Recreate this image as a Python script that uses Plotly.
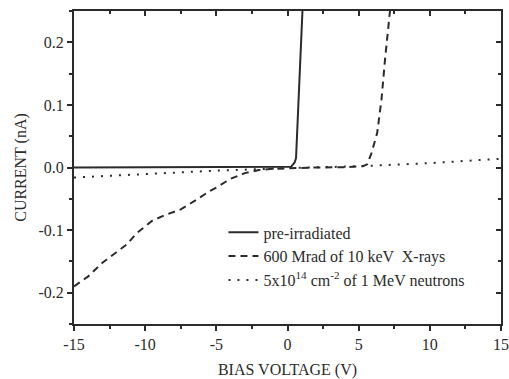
import plotly.graph_objects as go

# pre-irradiated
pre_x = [-15, -5, 0, 0.25, 0.5, 0.6, 1.05]
pre_y = [0.0, 0.0, 0.0, 0.001, 0.008, 0.015, 0.25]

# 600 Mrad of 10 keV X-rays
xr_x = [-15, -14, -13, -12, -11.3, -10.6, -9.5, -8.5, -7.5, -6.5, -5.5, -5, -4, -3, -2, -1, 0, 2, 4, 5.3, 5.6, 5.9, 6.3, 6.6, 6.85, 7.2]
xr_y = [-0.19, -0.174, -0.152, -0.135, -0.123, -0.105, -0.085, -0.075, -0.067, -0.053, -0.038, -0.032, -0.018, -0.009, -0.004, -0.002, -0.001, 0.0, 0.0005, 0.002, 0.005, 0.023, 0.055, 0.108, 0.172, 0.25]

# 5x10^14 cm^-2 of 1 MeV neutrons
nt_x = [-15, -10, -5, 0, 5, 10, 15]
nt_y = [-0.016, -0.010, -0.005, -0.001, 0.002, 0.007, 0.014]

names = ["pre-irradiated", "600 Mrad of 10 keV  X-rays",
         "5x10<sup>14</sup> cm<sup>-2</sup> of 1 MeV neutrons"]

x_ticks = [-15, -10, -5, 0, 5, 10, 15]
x_labels = ["-15", "-10", "-5", "0", "5", "10", "15"]
y_ticks = [-0.2, -0.1, 0.0, 0.1, 0.2]
y_labels = ["-0.2", "-0.1", "0.0", "0.1", "0.2"]

ink = "#2b2b2b"
font = "'Liberation Serif', 'Times New Roman', Times, serif"

fig = go.Figure()
fig.add_trace(go.Scatter(x=pre_x, y=pre_y, mode="lines", name=names[0],
                         line=dict(color=ink, width=2)))
fig.add_trace(go.Scatter(x=xr_x, y=xr_y, mode="lines", name=names[1],
                         line=dict(color=ink, width=2, dash="7px,5px")))
fig.add_trace(go.Scatter(x=nt_x, y=nt_y, mode="lines", name=names[2],
                         line=dict(color=ink, width=2, dash="2px,7px")))

common_ax = dict(showgrid=False, zeroline=False, showline=True, linecolor=ink,
                 linewidth=2, tickcolor=ink, tickwidth=1.5, ticklen=5, automargin=False)

fig.update_layout(
    width=509, height=379,
    margin=dict(l=74, r=8, t=11, b=55),
    paper_bgcolor="white", plot_bgcolor="white",
    font=dict(family=font, size=16, color=ink),
    showlegend=True,
    legend=dict(x=0.35, y=0.347, xanchor="left", yanchor="top",
                bgcolor="rgba(0,0,0,0)", font=dict(size=16, family=font),
                tracegroupgap=0, itemwidth=30),
    xaxis=dict(range=[-15, 15], tickvals=x_ticks, ticktext=x_labels, ticks="outside",
               minor=dict(ticks="outside", dtick=2.5, ticklen=3, tickcolor=ink, tickwidth=1.5),
               title=dict(text="BIAS VOLTAGE (V)", font=dict(size=16, family=font), standoff=16),
               tickfont=dict(size=16, family=font), **common_ax),
    yaxis=dict(range=[-0.25, 0.25], tickvals=y_ticks, ticktext=y_labels, ticks="outside",
               minor=dict(ticks="outside", dtick=0.05, tick0=0, ticklen=3, tickcolor=ink, tickwidth=1.5),
               title=dict(text="CURRENT (nA)", font=dict(size=16, family=font), standoff=8),
               tickfont=dict(size=16, family=font), **common_ax),
    xaxis2=dict(range=[-15, 15], overlaying="x", side="top", tickvals=x_ticks,
                ticks="inside", showticklabels=False,
                minor=dict(ticks="inside", dtick=2.5, ticklen=3, tickcolor=ink, tickwidth=1.5),
                **common_ax),
    yaxis2=dict(range=[-0.25, 0.25], overlaying="y", side="right", tickvals=y_ticks,
                ticks="inside", showticklabels=False,
                minor=dict(ticks="inside", dtick=0.05, tick0=0, ticklen=3, tickcolor=ink, tickwidth=1.5),
                **common_ax),
)
# invisible trace to activate the mirrored axes
fig.add_trace(go.Scatter(x=[-15], y=[0], xaxis="x2", yaxis="y2", mode="markers",
                         marker=dict(opacity=0), showlegend=False, hoverinfo="skip"))

fig.write_html("out.html")
